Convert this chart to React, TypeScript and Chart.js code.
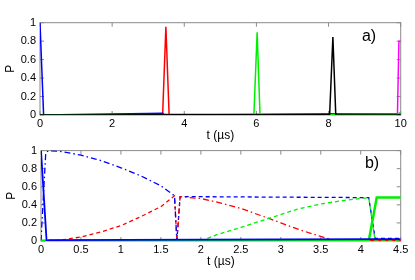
import React, { useEffect, useRef } from "react";
import { Chart, registerables } from "chart.js";
Chart.register(...registerables);

// ---------- Panel a) data ----------
const aXTicks = [0, 2, 4, 6, 8, 10];
const aBlueT = [0, 0.1, 1, 2, 3, 3.4, 3.45, 6, 8, 10];
const aBlueP = [1, 0, 0.005, 0.01, 0.015, 0.02, 0.005, 0.005, 0.01, 0.005];
const aRedT = [0, 3.4, 3.49, 3.58, 6, 10];
const aRedP = [0, 0.005, 0.957, 0, 0.005, 0.01];
const aGreenT = [0, 5.93, 6.02, 6.1, 9.9, 10];
const aGreenP = [0, 0.005, 0.895, 0, 0.005, 0.03];
const aBlackT = [0, 8.03, 8.12, 8.2, 10];
const aBlackP = [0, 0.005, 0.845, 0, 0];
const aMagT = [0, 9.91, 9.95, 10];
const aMagP = [0, 0, 0.8, 0.8];

// ---------- Panel b) data ----------
const bXTicks = [0, 0.5, 1, 1.5, 2, 2.5, 3, 3.5, 4, 4.5];
const bBlueSolidT = [0, 0.07, 0.1, 2, 4.1, 4.15, 4.5];
const bBlueSolidP = [1, 0, 0.01, 0.015, 0.02, 0.02, 0.02];
const bBlueDashDotT = [0, 0.03, 0.06, 0.1, 0.25, 0.5, 0.75, 1.0, 1.25, 1.5, 1.67, 1.7];
const bBlueDashDotP = [0, 0.5, 0.98, 1.0, 0.99, 0.95, 0.89, 0.81, 0.72, 0.61, 0.5, 0];
const bRedDashedT = [0, 0.1, 0.25, 0.5, 0.75, 1.0, 1.25, 1.5, 1.67, 1.7];
const bRedDashedP = [0, 0, 0.01, 0.045, 0.1, 0.17, 0.27, 0.38, 0.5, 0];
const bBlueDashedT = [1.7, 1.74, 2, 3, 4.1, 4.18, 4.5];
const bBlueDashedP = [0, 0.49, 0.49, 0.485, 0.48, 0.03, 0.03];
const bRedDashDotT = [1.7, 1.74, 2.0, 2.25, 2.5, 2.85, 3.0, 3.25, 3.5, 3.7, 4.5];
const bRedDashDotP = [0, 0.49, 0.47, 0.42, 0.36, 0.25, 0.2, 0.12, 0.05, 0, 0];
const bGreenDashedT = [2.0, 2.2, 2.5, 2.85, 3.2, 3.5, 3.8, 4.1, 4.18, 4.5];
const bGreenDashedP = [0, 0.07, 0.15, 0.25, 0.35, 0.41, 0.45, 0.48, 0, 0];
const bGreenSolidT = [0, 4.1, 4.2, 4.5];
const bGreenSolidP = [0, 0, 0.48, 0.48];
const bRedSolidT = [0, 4.5];
const bRedSolidP = [0, 0];
const bMagSolidT = [0, 4.5];
const bMagSolidP = [0, 0];

const yTicks = [0, 0.2, 0.4, 0.6, 0.8, 1];

const pts = (t: number[], p: number[]) => t.map((x, i) => ({ x, y: p[i] }));

const ds = (t: number[], p: number[], color: string, width: number, dash: number[] = []) => ({
  data: pts(t, p),
  borderColor: color,
  backgroundColor: color,
  borderWidth: width,
  borderDash: dash,
  pointRadius: 0,
  tension: 0,
  fill: false,
});

const FONT = "'Liberation Sans', Arial, Helvetica, sans-serif";
const DASH = [4, 3];
const DASHDOT = [6, 3, 1.5, 3];

const framePlugin = (label: string, lx: number, ly: number) => ({
  id: "frame_" + label.replace(")", ""),
  beforeDatasetsDraw(chart: any) {
    const { ctx, chartArea } = chart;
    const { left, right, top, bottom } = chartArea;
    const xs = chart.scales.x;
    const ys = chart.scales.y;
    ctx.save();
    ctx.strokeStyle = "#8a8a8a";
    ctx.lineWidth = 1;
    ctx.strokeRect(left, top, right - left, bottom - top);
    ctx.beginPath();
    const tl = 4;
    xs.ticks.forEach((t: any) => {
      const px = xs.getPixelForValue(t.value);
      ctx.moveTo(px, bottom);
      ctx.lineTo(px, bottom - tl);
      ctx.moveTo(px, top);
      ctx.lineTo(px, top + tl);
    });
    ys.ticks.forEach((t: any) => {
      const py = ys.getPixelForValue(t.value);
      ctx.moveTo(left, py);
      ctx.lineTo(left + tl, py);
      ctx.moveTo(right, py);
      ctx.lineTo(right - tl, py);
    });
    ctx.stroke();
    ctx.restore();
  },
  afterDraw(chart: any) {
    const { ctx } = chart;
    ctx.save();
    ctx.fillStyle = "#000";
    ctx.font = "16px " + FONT;
    ctx.textAlign = "center";
    ctx.textBaseline = "middle";
    ctx.fillText(label, lx, ly);
    ctx.restore();
  },
});

const fmt = (v: any) => String(Number(v));

function makeOptions(
  xMax: number,
  xTicks: number[],
  yWidth: number,
  xHeight: number,
  pad: any,
  yTitlePad: number,
  xTitlePad: number
) {
  return {
    responsive: false,
    animation: false,
    events: [],
    layout: { padding: pad },
    plugins: { legend: { display: false }, tooltip: { enabled: false } },
    scales: {
      x: {
        type: "linear",
        min: 0,
        max: xMax,
        afterBuildTicks: (s: any) => {
          s.ticks = xTicks.map((v) => ({ value: v }));
        },
        afterFit: (s: any) => {
          s.height = xHeight;
        },
        grid: { display: false, drawTicks: false },
        border: { display: false },
        ticks: { color: "#000", font: { family: FONT, size: 11 }, padding: 2, maxRotation: 0, autoSkip: false, callback: fmt },
        title: {
          display: true,
          text: "t (\u00b5s)",
          color: "#000",
          font: { family: FONT, size: 12 },
          padding: { top: 0, bottom: xTitlePad },
        },
      },
      y: {
        type: "linear",
        min: 0,
        max: 1,
        afterBuildTicks: (s: any) => {
          s.ticks = yTicks.map((v) => ({ value: v }));
        },
        afterFit: (s: any) => {
          s.width = yWidth;
        },
        grid: { display: false, drawTicks: false },
        border: { display: false },
        ticks: { color: "#000", font: { family: FONT, size: 11 }, padding: 4, callback: fmt },
        title: {
          display: true,
          text: "P",
          color: "#000",
          font: { family: FONT, size: 12 },
          padding: { top: yTitlePad, bottom: 0 },
        },
      },
    },
  } as any;
}

export default function App() {
  const refA = useRef<HTMLCanvasElement>(null);
  const refB = useRef<HTMLCanvasElement>(null);

  useEffect(() => {
    const chartA = new Chart(refA.current as HTMLCanvasElement, {
      type: "line",
      data: {
        datasets: [
          ds(aBlackT, aBlackP, "#000000", 1.5),
          ds(aGreenT, aGreenP, "#00ee00", 1.5),
          ds(aBlueT, aBlueP, "#0000ff", 1.5),
          ds(aRedT, aRedP, "#ff0000", 1.5),
          ds(aMagT, aMagP, "#ff00ff", 1.5),
        ],
      } as any,
      options: makeOptions(10, aXTicks, 40, 35, { left: 0, right: 14.3, top: 22.7, bottom: 0 }, 3, 6.8),
      plugins: [framePlugin("a)", 369, 36.5)],
    });
    const chartB = new Chart(refB.current as HTMLCanvasElement, {
      type: "line",
      data: {
        datasets: [
          ds(bBlueSolidT, bBlueSolidP, "#0000ff", 1.8),
          ds(bGreenSolidT, bGreenSolidP, "#00ee00", 2.5),
          ds(bGreenDashedT, bGreenDashedP, "#00ee00", 1.3, DASH),
          ds(bBlueDashDotT, bBlueDashDotP, "#0000ff", 1.3, DASHDOT),
          ds(bRedDashedT, bRedDashedP, "#ff0000", 1.3, DASH),
          ds(bRedDashDotT, bRedDashDotP, "#ff0000", 1.3, DASHDOT),
          ds(bBlueDashedT, bBlueDashedP, "#0000ff", 1.3, DASH),
          ds(bRedSolidT, bRedSolidP, "#ff0000", 2.5),
          ds(bMagSolidT, bMagSolidP, "#ff00ff", 2),
        ],
      } as any,
      options: makeOptions(4.5, bXTicks, 41, 39, { left: 0, right: 14.3, top: 9.7, bottom: 0 }, 4, 10.8),
      plugins: [framePlugin("b)", 372, 163.5 - 140)],
    });
    return () => {
      chartA.destroy();
      chartB.destroy();
    };
  }, []);

  return (
    <div style={{ position: "absolute", left: 0, top: 0, width: 415, height: 280, background: "#fff" }}>
      <canvas ref={refA} width={415} height={150} style={{ position: "absolute", left: 0, top: 0, width: 415, height: 150 }} />
      <canvas ref={refB} width={415} height={140} style={{ position: "absolute", left: 0, top: 140, width: 415, height: 140 }} />
    </div>
  );
}
